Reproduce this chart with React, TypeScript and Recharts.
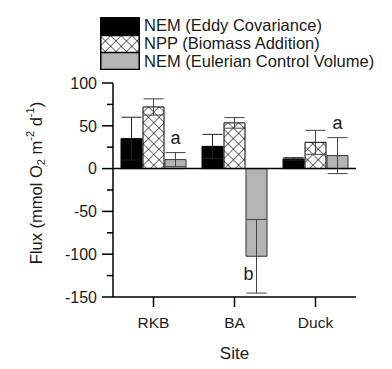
import React from 'react';
import { BarChart, Bar, XAxis, YAxis, ErrorBar, ReferenceLine, LabelList } from 'recharts';

const sites = ['RKB', 'BA', 'Duck'];
const eddyValues = [35, 26, 11.3];
const eddyErrors = [25, 14, 1.5];
const nppValues = [72, 53.4, 30.7];
const nppErrors = [9.5, 6.2, 14];
const ecvValues = [10.5, -102.4, 15.2];
const ecvErrors = [8.2, 43, 21];
const ecvLetters = ['a', 'b', 'a'];
const yTicks = [-150, -125, -100, -75, -50, -25, 0, 25, 50, 75, 100];
const yMajor = [-150, -100, -50, 0, 50, 100];
const seriesNames = ['NEM (Eddy Covariance)', 'NPP (Biomass Addition)', 'NEM (Eulerian Control Volume)'];

const data = sites.map((site, i) => ({
  site,
  eddy: eddyValues[i],
  eddyErr: eddyErrors[i],
  npp: nppValues[i],
  nppErr: nppErrors[i],
  ecv: ecvValues[i],
  ecvErr: ecvErrors[i],
  letter: ecvLetters[i],
}));

const FONT = 'Arial, "Liberation Sans", Helvetica, sans-serif';
const GRAY = '#b4b4b4';
const TEXT = '#1a1a1a';

const YTick = (props: any) => {
  const { x, y, payload } = props;
  const major = yMajor.includes(payload.value);
  return (
    <g>
      <line x1={x - (major ? 11 : 6)} x2={x} y1={y} y2={y} stroke="#000" strokeWidth={1.5} />
      {major && (
        <text x={x - 16} y={y} dy="0.36em" textAnchor="end" fontSize={16} fill={TEXT} fontFamily={FONT}>
          {payload.value}
        </text>
      )}
    </g>
  );
};

const LetterLabel = (props: any) => {
  const { x, y, width, height, value, index } = props;
  if (!value) return null;
  const v = ecvValues[index];
  const err = ecvErrors[index];
  const top = Math.min(y, y + height);
  const bottom = Math.max(y, y + height);
  const k = Math.abs(height / v);
  const cx = x + width / 2;
  if (v >= 0) {
    return (
      <text x={cx} y={top - err * k - 9} textAnchor="middle" fontSize={18} fill={TEXT} fontFamily={FONT}>
        {value}
      </text>
    );
  }
  return (
    <text x={cx - 8} y={bottom + 24} textAnchor="middle" fontSize={18} fill={TEXT} fontFamily={FONT}>
      {value}
    </text>
  );
};

const YLabel = () => (
  <text
    transform="translate(36,183) rotate(-90)"
    textAnchor="middle"
    dominantBaseline="central"
    fontSize={16.5}
    fill={TEXT}
    fontFamily={FONT}
  >
    Flux (mmol O
    <tspan fontSize={11} dy={5}>2</tspan>
    <tspan dy={-5}> m</tspan>
    <tspan fontSize={11} dy={-6}>-2</tspan>
    <tspan dy={6}> d</tspan>
    <tspan fontSize={11} dy={-6}>-1</tspan>
    <tspan dy={6}>)</tspan>
  </text>
);

const XLabel = (props: any) => {
  const vb = props.viewBox || {};
  return (
    <text x={vb.x + vb.width / 2} y={359} textAnchor="middle" fontSize={17} fill={TEXT} fontFamily={FONT}>
      Site
    </text>
  );
};

const HatchDef = ({ id }: { id: string }) => (
  <pattern id={id} patternUnits="userSpaceOnUse" width={7.5} height={7.5} patternTransform="rotate(45)">
    <rect width={7.5} height={7.5} fill="#fff" />
    <line x1={0} y1={0} x2={7.5} y2={0} stroke="#000" strokeWidth={1.1} />
    <line x1={0} y1={0} x2={0} y2={7.5} stroke="#000" strokeWidth={1.1} />
  </pattern>
);

const swatchFills = ['#000', 'url(#hatchLegend)', GRAY];

const LegendBox = () => (
  <div style={{ position: 'absolute', left: 100, top: 17, fontFamily: FONT }}>
    {seriesNames.map((name, i) => (
      <div key={name} style={{ display: 'flex', alignItems: 'center', height: 17.7 }}>
        <svg width={40} height={18} style={{ display: 'block' }}>
          <defs>
            <HatchDef id="hatchLegend" />
          </defs>
          <rect x={0.75} y={0.5} width={38.5} height={17} fill={swatchFills[i]} stroke="#000" strokeWidth={1.5} />
        </svg>
        <span style={{ marginLeft: 4, fontSize: 16.5, color: TEXT, whiteSpace: 'nowrap', lineHeight: '17px' }}>{name}</span>
      </div>
    ))}
  </div>
);

export default function App() {
  return (
    <div style={{ position: 'absolute', left: 0, top: 0, width: 392, height: 369, background: '#fff' }}>
      <BarChart
        width={392}
        height={369}
        data={data}
        margin={{ top: 83, right: 36, bottom: 0, left: 0 }}
        barSize={21}
        barGap={1}
      >
        <defs>
          <HatchDef id="hatchBar" />
        </defs>
        <XAxis
          dataKey="site"
          height={72}
          tickSize={10}
          tickMargin={10}
          axisLine={{ stroke: '#000', strokeWidth: 1.5 }}
          tickLine={{ stroke: '#000', strokeWidth: 1.5 }}
          tick={{ fontSize: 15.5, fill: TEXT, fontFamily: FONT }}
          label={<XLabel />}
        />
        <YAxis
          width={113}
          domain={[-150, 100]}
          ticks={yTicks}
          interval={0}
          tickLine={false}
          tickSize={0}
          tickMargin={0}
          tick={<YTick />}
          axisLine={{ stroke: '#000', strokeWidth: 1.5 }}
          label={<YLabel />}
        />
        <ReferenceLine y={0} stroke="#000" strokeWidth={1.5} />
        <Bar dataKey="eddy" fill="#000" stroke="#000" strokeWidth={1} isAnimationActive={false}>
          <ErrorBar dataKey="eddyErr" width={10} stroke="#222" strokeWidth={1} direction="y" />
        </Bar>
        <Bar dataKey="npp" fill="url(#hatchBar)" stroke="#000" strokeWidth={1} isAnimationActive={false}>
          <ErrorBar dataKey="nppErr" width={10} stroke="#444" strokeWidth={1} direction="y" />
        </Bar>
        <Bar dataKey="ecv" fill={GRAY} stroke="#333" strokeWidth={1} isAnimationActive={false}>
          <ErrorBar dataKey="ecvErr" width={10} stroke="#444" strokeWidth={1} direction="y" />
          <LabelList dataKey="letter" content={<LetterLabel />} />
        </Bar>
      </BarChart>
      <LegendBox />
    </div>
  );
}
